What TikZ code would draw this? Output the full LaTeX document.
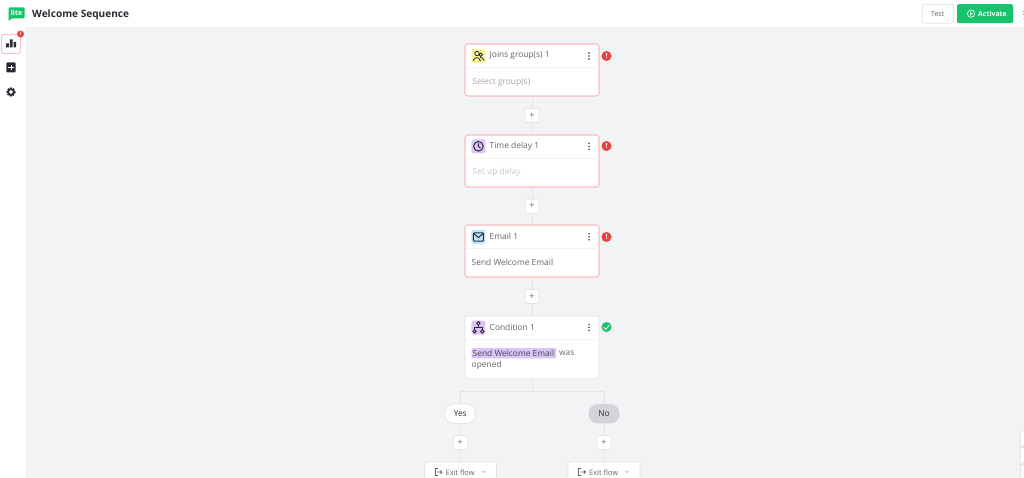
\documentclass[tikz,border=0pt]{standalone}
\usepackage{fontspec}
\setmainfont{Open Sans}
\definecolor{canvas}{HTML}{F2F3F5}
\definecolor{edgegrey}{HTML}{E3E4E8}
\definecolor{errline}{HTML}{F9BDBD}
\definecolor{errred}{HTML}{EF3F3F}
\definecolor{okgreen}{HTML}{14C46B}
\definecolor{ink}{HTML}{2A2C33}
\definecolor{bodyink}{HTML}{64666C}
\definecolor{faint}{HTML}{A5A7AC}
\definecolor{fainter}{HTML}{C6C7CB}
\definecolor{lilac}{HTML}{DCC4F8}
\definecolor{sky}{HTML}{BFE6FB}
\definecolor{lemon}{HTML}{F5F69A}
\definecolor{pillgrey}{HTML}{D2D4DA}
\tikzset{
  x=1pt,y=-1pt,
  card/.style={draw=edgegrey,fill=white,line width=0.7pt,rounded corners=3pt,minimum width=134pt,inner sep=0pt},
  badcard/.style={card,draw=errline,line width=1.1pt},
  addbtn/.style={draw=edgegrey,fill=white,line width=0.7pt,rounded corners=1.5pt,minimum width=14pt,minimum height=14pt,inner sep=0pt,font=\fontsize{9}{9}\selectfont,text=bodyink},
  link/.style={draw=edgegrey,line width=0.9pt},
  rowline/.style={draw=canvas,line width=0.7pt},
  title/.style={anchor=west,inner sep=0pt,text=bodyink,font=\fontsize{8.4}{10}\selectfont},
  body/.style={anchor=west,inner sep=0pt,text=bodyink,font=\fontsize{8.4}{10}\selectfont},
  iconbox/.style={rounded corners=2.5pt,minimum size=14pt,inner sep=0pt},
  alarm/.style={circle,fill=errred,minimum size=10pt,inner sep=0pt,text=white,font=\bfseries\fontsize{7}{7}\selectfont},
  okay/.style={circle,fill=okgreen,minimum size=10pt,inner sep=0pt},
  pill/.style={rounded corners=9.5pt,minimum width=31pt,minimum height=19.5pt,inner sep=0pt,font=\fontsize{8.3}{10}\selectfont,text=ink},
  exitbox/.style={draw=edgegrey,fill=white,line width=0.7pt,rounded corners=1.5pt,minimum width=72pt,minimum height=32pt,inner sep=0pt},
  exittext/.style={anchor=west,inner sep=0pt,text=bodyink,font=\fontsize{7.4}{9}\selectfont},
  glyph/.style={draw=ink,line width=0.9pt,fill=none},
  solidglyph/.style={fill=ink,draw=none}
}
\newcommand{\kebab}[2]{\fill[ink] (#1,#2-3) circle (0.8) (#1,#2) circle (0.8) (#1,#2+3) circle (0.8);}
\begin{document}
\begin{tikzpicture}
\path[use as bounding box,clip] (0,0) rectangle (1024,478);
\fill[canvas] (0,0) rectangle (1024,478);
% top bar and side bar
\fill[white] (0,0) rectangle (1024,27);
\fill[white] (0,0) rectangle (26,478);
\draw[edgegrey!60,line width=0.5pt] (26,27) -- (26,478);
\draw[edgegrey!60,line width=0.5pt] (26,27) -- (1024,27);
% logo
\fill[okgreen,rounded corners=1.2pt] (8.5,7.5) rectangle (24.5,18.5);
\fill[okgreen] (8.5,17) -- (8.5,21) -- (12.5,18) -- cycle;
\node[inner sep=0pt,text=white,font=\bfseries\fontsize{7}{7}\selectfont] (logo) at (16.5,13.3) {lite};
\node[anchor=west,inner sep=0pt,text=ink,font=\bfseries\fontsize{10.1}{12}\selectfont] (heading) at (32,14.8) {Welcome Sequence};
% side icons
\node[draw=errline,fill=white,line width=0.9pt,rounded corners=2.5pt,minimum size=19pt,inner sep=0pt] (statsbtn) at (11,44) {};
\fill[ink] (6.2,43.5) rectangle (8.9,47.5) (9.8,39.5) rectangle (12.6,47.5) (13.5,42) rectangle (16,47.5);
\node[circle,fill=errred,minimum size=7pt,inner sep=0pt,text=white,font=\bfseries\fontsize{5}{5}\selectfont] (statsalert) at (20.5,34) {!};
\fill[ink,rounded corners=1pt] (6.3,62.5) rectangle (15.7,72.5);
\draw[white,line width=1pt] (8.3,67.5) -- (13.7,67.5) (11,64.8) -- (11,70.2);
\draw[ink,line width=1.5pt,dash pattern=on 1.6pt off 1.26pt] (11,92) circle (3.9);
\draw[ink,line width=1.9pt] (11,92) circle (2.9);
% cards
\node[badcard,minimum height=52pt] (c1) at (532,70) {};
\node[badcard,minimum height=52pt] (c2) at (532,161) {};
\node[badcard,minimum height=52pt] (c3) at (532,251) {};
\node[card,minimum height=63pt] (c4) at (532,347.5) {};
\draw[rowline] (465.5,67.5) -- (598.5,67.5) (465.5,158.5) -- (598.5,158.5) (465.5,248.5) -- (598.5,248.5) (465.5,339.5) -- (598.5,339.5);
% add buttons
\node[addbtn] (a1) at (532,115.6) {+};
\node[addbtn] (a2) at (532,206.2) {+};
\node[addbtn] (a3) at (532,296.4) {+};
\node[addbtn] (a4) at (460.3,442.5) {+};
\node[addbtn] (a5) at (604,442.5) {+};
% pills
\node[pill,draw=edgegrey,fill=white,line width=0.7pt] (yes) at (460.2,413.7) {Yes};
\node[pill,fill=pillgrey] (no) at (604,413.7) {No};
% exit boxes
\node[exitbox] (e1) at (460.5,478) {};
\node[exitbox] (e2) at (604,478) {};
% connectors
\draw[link] (c1) -- (a1);
\draw[link] (a1) -- (c2);
\draw[link] (c2) -- (a2);
\draw[link] (a2) -- (c3);
\draw[link] (c3) -- (a3);
\draw[link] (a3) -- (c4);
\coordinate (fork) at (532,391.5);
\draw[link] (c4) -- (fork);
\draw[link] (fork) -| (yes);
\draw[link] (fork) -| (no);
\draw[link] (yes) -- (a4);
\draw[link] (a4) -- (e1);
\draw[link] (no) -- (a5);
\draw[link] (a5) -- (e2);
% icon tiles
\node[iconbox,fill=lemon] (i1) at (478.4,56) {};
\node[iconbox,fill=lilac] (i2) at (478.4,146.3) {};
\node[iconbox,fill=sky] (i3) at (478.4,237) {};
\node[iconbox,fill=lilac] (i4) at (478.4,327.5) {};
% people
\draw[glyph,line width=0.8pt] (477,53.5) circle (2.2) (480.8,54.8) circle (1.7);
\draw[glyph,line width=0.8pt] (473.2,61) .. controls (473.7,57) and (479,56) .. (480.5,61);
\draw[glyph,line width=0.8pt] (480,57.5) .. controls (482,57) and (483.5,58.5) .. (484,60.8);
% clock
\draw[glyph,line width=1pt] (478.4,146.3) circle (4.8);
\draw[glyph,line width=0.9pt] (478.4,143.3) -- (478.4,146.6) -- (480.6,147.9);
% envelope
\draw[glyph,line width=1pt,rounded corners=0.6pt] (473.4,233) rectangle (483.4,241);
\draw[glyph,line width=1pt] (473.7,233.7) -- (478.4,237.5) -- (483.1,233.7);
% hierarchy
\draw[glyph,line width=0.9pt] (478.4,323.2) circle (1.7) (474.6,331.5) circle (1.7) (482.2,331.5) circle (1.7);
\draw[glyph,line width=0.9pt] (478.4,325) -- (478.4,327.5) (474.6,329.8) -- (474.6,327.5) -- (482.2,327.5) -- (482.2,329.8);
% texts
\node[title] (t1) at (489.5,55.7) {Joins group(s) 1};
\node[title] (t2) at (489.5,146.2) {Time delay 1};
\node[title] (t3) at (489.5,236.5) {Email 1};
\node[title] (t4) at (489.5,327) {Condition 1};
\node[body,text=faint] (b1) at (472.5,82.2) {Select group(s)};
\node[body,text=fainter] (b2) at (472.5,172.6) {Set up delay};
\node[body] (b3) at (471.5,262.5) {Send Welcome Email};
\fill[lilac,rounded corners=1pt] (471.5,348) rectangle (556,358.3);
\node[body,text=ink!85!lilac] (b4) at (472.5,353.2) {Send Welcome Email};
\node[body] (b4a) at (559,353.2) {was};
\node[body] (b4b) at (471.5,365.2) {opened};
% kebabs
\kebab{589}{56}
\kebab{589}{146.3}
\kebab{589}{236.8}
\kebab{589}{327.3}
% status badges
\node[alarm] (s1) at (606.5,56) {!};
\node[alarm] (s2) at (606.5,146) {!};
\node[alarm] (s3) at (606.5,237) {!};
\node[okay] (s4) at (606.5,327) {};
\draw[white,line width=0.9pt] (603.8,327.2) -- (605.8,329.2) -- (609.4,325.2);
% exit contents
\draw[bodyink,line width=0.7pt] (437.5,468.5) -- (435,468.5) -- (435,475.5) -- (437.5,475.5);
\draw[bodyink,line width=0.7pt] (437,472) -- (442,472) (440.3,470.3) -- (442,472) -- (440.3,473.7);
\node[exittext] (x1) at (445.5,472.4) {Exit flow};
\draw[faint,line width=0.6pt] (482,471) -- (483.5,472.5) -- (485,471);
\draw[bodyink,line width=0.7pt] (581,468.5) -- (578.5,468.5) -- (578.5,475.5) -- (581,475.5);
\draw[bodyink,line width=0.7pt] (580.5,472) -- (585.5,472) (583.8,470.3) -- (585.5,472) -- (583.8,473.7);
\node[exittext] (x2) at (589,472.4) {Exit flow};
\draw[faint,line width=0.6pt] (625.5,471) -- (627,472.5) -- (628.5,471);
% top right buttons
\node[draw=edgegrey,fill=white,line width=0.7pt,rounded corners=2pt,minimum width=31pt,minimum height=19pt,inner sep=0pt,text=bodyink,font=\fontsize{7}{9}\selectfont] (test) at (937.7,13.7) {Test};
\node[fill=okgreen,rounded corners=2pt,minimum width=56pt,minimum height=19pt,inner sep=0pt] (activate) at (985,13.7) {};
\draw[white,line width=0.7pt] (971,13.7) circle (3.6);
\fill[white] (970,11.8) -- (970,15.6) -- (972.7,13.7) -- cycle;
\node[anchor=west,inner sep=0pt,text=white,font=\bfseries\fontsize{6.9}{9}\selectfont] (acttext) at (978,14) {Activate};
\fill[faint] (1023,11) rectangle (1024,12) (1023,14) rectangle (1024,15);
% right edge controls
\draw[edgegrey,fill=white,line width=0.6pt] (1024,430.5) -- (1020.5,430.5) -- (1020.5,445) -- (1024,445);
\draw[edgegrey,fill=white,line width=0.6pt] (1024,447) -- (1020.5,447) -- (1020.5,462) -- (1024,462);
\draw[edgegrey,fill=canvas!50!white,line width=0.6pt] (1024,464) -- (1020.5,464) -- (1020.5,478) -- (1024,478);
\end{tikzpicture}
\end{document}
